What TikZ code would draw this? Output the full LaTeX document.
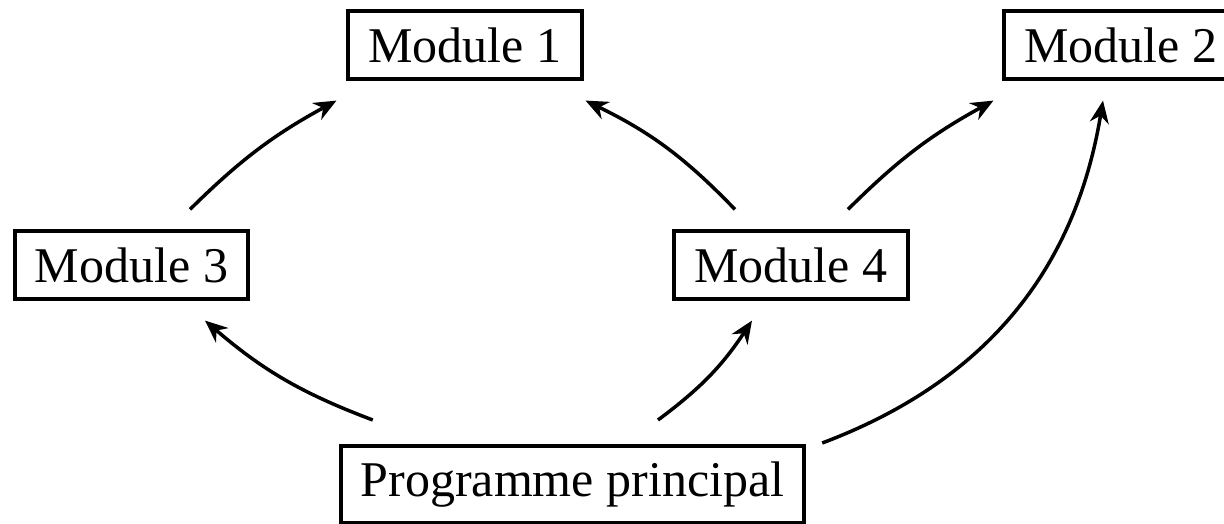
\documentclass[tikz,border=0pt]{standalone}
\usepackage{fontspec}
\setmainfont{Liberation Serif}
\usetikzlibrary{arrows.meta}
\begin{document}
\begin{tikzpicture}[modstyle/.style={rectangle, draw=black, line width=0.8pt,
		inner xsep=4pt, inner ysep=3.2pt, text centered},
	link/.style={-{Stealth[length=4.5pt,width=3.8pt]}, line width=0.7pt}]
	\useasboundingbox (0,0) rectangle (244.8pt,104.8pt);
	\def \ytop {95.8pt}
	\def \ymid {51.8pt}

	\foreach \modname/\x/\y [count=\s] in {Module 1/93pt/\ytop, Module 2/224.2pt/\ytop, Module 3/26.3pt/\ymid, Module 4/158.2pt/\ymid} {
		\node(m\s) [modstyle] at (\x,\y) {\modname};
	};
	\node(main) [modstyle, anchor=north] at (114.5pt,16pt) {Programme principal};

	\draw[link] ([shift={(11.7pt,4pt)}]m3.north) to[bend left=8] ([shift={(-2pt,-4pt)}]m1.south west);
	\draw[link] ([shift={(-11.2pt,4pt)}]m4.north) to[bend right=10] ([shift={(0.4pt,-4pt)}]m1.south east);
	\draw[link] ([shift={(11.4pt,4pt)}]m4.north) to[bend left=8] ([shift={(-1.8pt,-4pt)}]m2.south west);
	\draw[link] ([shift={(6.8pt,4.8pt)}]main.north west) to[bend left=10] ([shift={(14.7pt,-4pt)}]m3.south);
	\draw[link] ([shift={(17.1pt,4.8pt)}]main.north) to[bend right=10] ([shift={(-7.8pt,-4pt)}]m4.south);
	\draw[link] ([shift={(3.2pt,0.2pt)}]main.north east) to[bend right=30] ([shift={(-3.6pt,-4pt)}]m2.south);
\end{tikzpicture}
\end{document}
